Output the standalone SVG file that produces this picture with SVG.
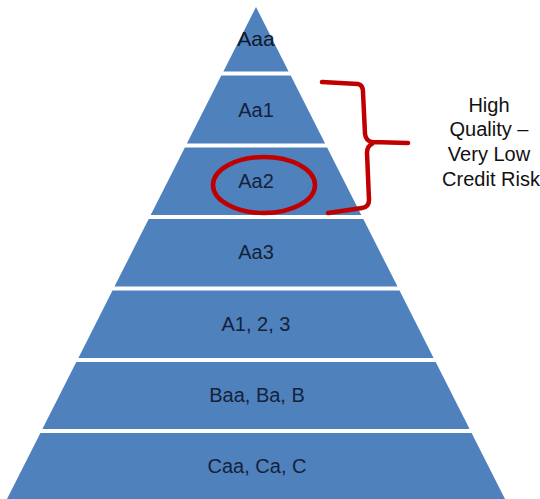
<svg xmlns="http://www.w3.org/2000/svg" width="540" height="499" viewBox="0 0 540 499">
<style>
.band{fill:#4F81BD;}
.lbl{font-family:"Liberation Sans",Arial,sans-serif;font-size:20px;fill:#14223a;text-anchor:middle;}
.side{font-family:"Liberation Sans",Arial,sans-serif;font-size:20px;fill:#111;text-anchor:middle;}
.red{fill:none;stroke:#C00000;stroke-width:4.5;stroke-linecap:round;stroke-linejoin:round;}
</style>
<rect width="540" height="499" fill="#fff"/>
<g id="band-aaa"><polygon class="band" points="256,7 288.6,71.5 223.4,71.5"/><text class="lbl" x="256" y="46" style="font-size:21px;fill:#101828">Aaa</text></g>
<g id="band-aa1"><polygon class="band" points="221.3,75.5 290.7,75.5 325.1,143.5 186.9,143.5"/><text class="lbl" x="256" y="117">Aa1</text></g>
<g id="band-aa2"><polygon class="band" points="184.9,147.5 327.1,147.5 361.3,215 150.7,215"/><text class="lbl" x="256" y="188">Aa2</text></g>
<g id="band-aa3"><polygon class="band" points="148.7,219 363.3,219 397.5,286.5 114.5,286.5"/><text class="lbl" x="256" y="259">Aa3</text></g>
<g id="band-a"><polygon class="band" points="112.5,290.5 399.5,290.5 433.6,358 78.4,358"/><text class="lbl" x="256" y="331">A1, 2, 3</text></g>
<g id="band-baa"><polygon class="band" points="76.3,362 435.7,362 469.6,429 42.4,429"/><text class="lbl" x="257" y="402">Baa, Ba, B</text></g>
<g id="band-caa"><polygon class="band" points="40.4,433 471.6,433 505,499 7,499"/><text class="lbl" x="257" y="473">Caa, Ca, C</text></g>
<g id="connectors">
<ellipse id="circle-aa2" class="red" cx="264" cy="185" rx="51" ry="28"/>
<path id="brace" class="red" d="M322,82 L358,84 Q363,85 363,92 L365,134 Q366,141 372,142 L408,143 M372,144 Q367,146 367,153 L369,200 Q369,207 362,208 L328,213"/>
</g>
<g id="label-high-quality">
<text class="side" x="489" y="112">High</text>
<text class="side" x="489" y="136">Quality –</text>
<text class="side" x="489" y="161">Very Low</text>
<text class="side" x="491" y="186">Credit Risk</text>
</g>
</svg>
